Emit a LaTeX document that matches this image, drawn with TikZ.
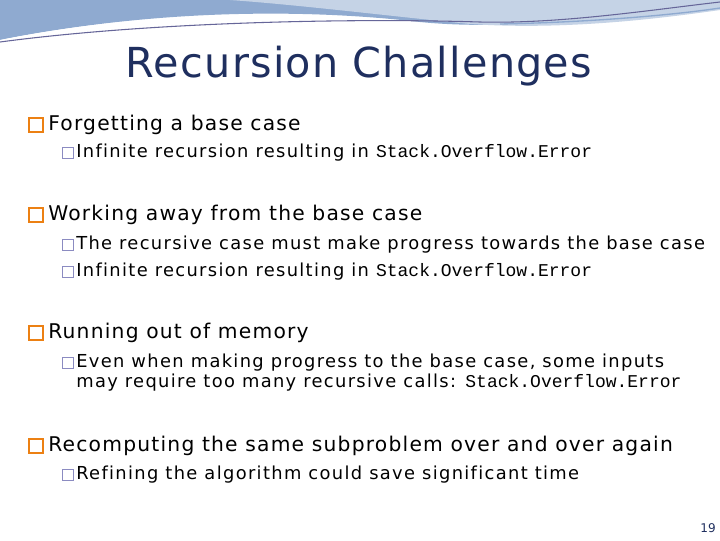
\documentclass[tikz,border=0pt]{standalone}
\usepackage{fontspec}
\setmainfont[LetterSpace=7.5,Ligatures=NoCommon]{DejaVu Sans}
\newfontfamily\onef[LetterSpace=6,Ligatures=NoCommon]{DejaVu Sans}
\newfontfamily\titf[LetterSpace=3]{DejaVu Sans}
\newfontfamily\plainf{DejaVu Sans}
\newfontfamily\monof{Liberation Mono}
\definecolor{wave}{HTML}{8FAAD0}
\definecolor{wavel}{HTML}{C5D3E6}
\definecolor{navy}{HTML}{1F2F5F}
\begin{document}
\begin{tikzpicture}[x=0.75pt,y=-0.75pt,
 lone/.style={anchor=west,inner sep=0,font=\onef\fontsize{15.2}{18}\selectfont},
 ltwo/.style={anchor=west,inner sep=0,font=\fontsize{13.4}{16}\selectfont,align=left},
 bone/.style={draw=orange!70!brown,line width=1.3pt,minimum size=11pt,inner sep=0},
 btwo/.style={draw=blue!30!gray!70,line width=0.5pt,minimum size=8pt,inner sep=0}]
\useasboundingbox (0,0) rectangle (720,540);
\fill[white] (0,0) rectangle (720,540);
% top waves
\fill[wave] (0,0) -- (720,0) -- (720,8) .. controls (600,20) and (500,30) .. (420,22) .. controls (300,8) and (150,10) .. (0,40) -- cycle;
\fill[wavel] (230,0) -- (720,0) -- (720,10) .. controls (650,20) and (560,30) .. (470,24) .. controls (380,15) and (300,5) .. (230,0) -- cycle;
\fill[white] (0,40) .. controls (150,10) and (300,12) .. (420,24) .. controls (350,20) and (150,20) .. (0,45) -- cycle;
\draw[gray!80!blue,line width=0.8pt] (0,42) .. controls (150,22) and (350,18) .. (480,22) .. controls (560,24) and (650,10) .. (720,2);
\draw[wave,line width=1pt] (500,24) .. controls (600,22) and (680,14) .. (720,8);
\node[inner sep=0,text=navy,font=\titf\fontsize{31}{36}\selectfont] (t) at (359,66) {Recursion Challenges};
% level 1
\node[bone] (b1) at (36,125) {}; \node[lone] (l1) at (48,125) {Forgetting a base case};
\node[btwo] (b11) at (68,153) {}; \node[ltwo] (l11) at (76,153) {Infinite recursion resulting in {\monof\fontsize{13.5}{16}\selectfont Stack.Overflow.Error}};
\node[bone] (b2) at (36,215) {}; \node[lone] (l2) at (48,215) {Working away from the base case};
\node[btwo] (b21) at (68,245) {}; \node[ltwo] (l21) at (76,245) {The recursive case must make progress towards the base case};
\node[btwo] (b22) at (68,272) {}; \node[ltwo] (l22) at (76,272) {Infinite recursion resulting in {\monof\fontsize{13.5}{16}\selectfont Stack.Overflow.Error}};
\node[bone] (b3) at (36,333) {}; \node[lone] (l3) at (48,333) {Running out of memory};
\node[btwo] (b31) at (68,363) {}; \node[ltwo,anchor=north west] (l31) at (76,354) {Even when making progress to the base case, some inputs\\[-1.5pt]may require too many recursive calls: {\monof\fontsize{13.5}{16}\selectfont Stack.Overflow.Error}};
\node[bone] (b4) at (36,446) {}; \node[lone] (l4) at (48,446) {Recomputing the same subproblem over and over again};
\node[btwo] (b41) at (68,475) {}; \node[ltwo] (l41) at (76,475) {Refining the algorithm could save significant time};
\node[inner sep=0,anchor=east,font=\plainf\fontsize{9}{10}\selectfont,text=navy] (n) at (716,528) {19};
\end{tikzpicture}
\end{document}
